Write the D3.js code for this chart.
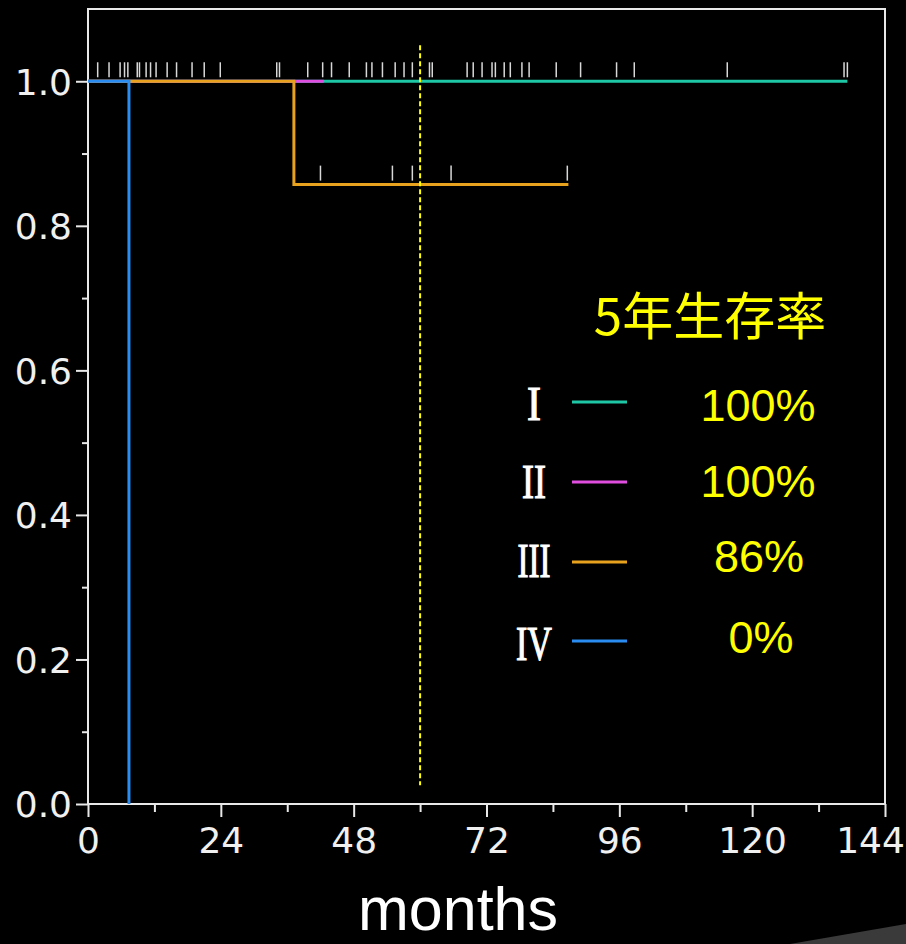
<!DOCTYPE html>
<html>
<head>
<meta charset="utf-8">
<script src="https://cdn.jsdelivr.net/npm/d3@7"></script>
<style>
  html, body { margin: 0; padding: 0; background: #000; }
  svg { display: block; }
</style>
</head>
<body>
<div id="container"></div>
<script>
/* CONSTANTS AND GLOBALS */
const width = 906,
  height = 944,
  margin = {top: 9, bottom: 140, left: 88, right: 21};

// data
const xTicks = [0, 24, 48, 72, 96, 120, 144];
const xMinor = [12, 36, 60, 84, 108, 132];
const yTicks = [0, 0.2, 0.4, 0.6, 0.8, 1.0];
const yMinor = [0.1, 0.3, 0.5, 0.7, 0.9];

const stageLabels = ["I", "II", "III", "IV"];
const stageColors = ["#1ec8a6", "#e04ee0", "#e8a21e", "#2a8cf0"];
const fiveYear = ["100%", "100%", "86%", "0%"];

// step curves: [months, survival]
const curveI = [[0, 1], [137.2, 1]];
const curveII = [[0, 1], [42.6, 1]];
const curveIII = [[0, 1], [37.2, 0.857], [86.8, 0.857]];
const curveIV = [[0, 1], [7.4, 0], [7.4, 0]];
const curves = [curveI, curveII, curveIII, curveIV];

// censor marks
const censorTop = [1.75, 3.8, 5.8, 6.6, 7.2, 8.9, 9.3, 10.5, 11.3, 12.3, 14.3, 16.0, 18.8, 21.0, 23.9,
  34.1, 34.6, 39.7, 42.4, 44.0, 47.2, 50.3, 51.3, 53.2, 55.5, 57.1, 58.6, 61.7, 62.2,
  68.5, 69.6, 71.2, 73.0, 73.6, 75.2, 76.3, 78.4, 79.7, 84.6, 89.0, 95.5, 98.7, 115.5, 136.6, 137.2];
const censorIII = [42.0, 55.0, 58.6, 65.6, 86.6];
const fiveYearMark = 60;

// Scales
const xScale = d3.scaleLinear()
  .domain([0, 144])
  .range([margin.left, width - margin.right]);

const yScale = d3.scaleLinear()
  .domain([0, 1.1])
  .range([height - margin.bottom, margin.top]);

// SVG
const svg = d3.select("#container")
  .append("svg")
  .attr("width", width)
  .attr("height", height)
  .style("background", "#000");

// slanted grey shape in the corner
svg.append("polygon")
  .attr("points", "790,944 906,924 906,944")
  .attr("fill", "#3a3a3a");

const x0 = xScale(0), x1 = xScale(144), y0 = yScale(0), y1 = yScale(1.1);

// Axes
const xAxis = d3.axisBottom(xScale).tickValues(xTicks).tickSize(13).tickPadding(10);
const gx = svg.append("g")
  .attr("transform", `translate(0, ${y0})`)
  .call(xAxis);
svg.append("g")
  .attr("transform", `translate(0, ${y0})`)
  .call(d3.axisBottom(xScale).tickValues(xMinor).tickSize(8).tickFormat(""));

gx.selectAll("text").filter(d => d === 144).attr("dx", -15);

const yAxis = d3.axisLeft(yScale).tickValues(yTicks).tickSize(12).tickPadding(4)
  .tickFormat(d3.format(".1f"));
const gy = svg.append("g")
  .attr("transform", `translate(${x0},0)`)
  .call(yAxis);
svg.append("g")
  .attr("transform", `translate(${x0},0)`)
  .call(d3.axisLeft(yScale).tickValues(yMinor).tickSize(6).tickFormat(""));

svg.selectAll(".domain").remove();
svg.selectAll(".tick line").attr("stroke", "#e8e8e8").attr("stroke-width", 2);
svg.selectAll(".tick text")
  .attr("fill", "#f0f0f0")
  .style("font-family", "'DejaVu Sans', Verdana, sans-serif")
  .style("font-size", "36px");
gy.selectAll("text").attr("dy", "0.36em");

// frame
svg.append("rect")
  .attr("x", x0)
  .attr("y", y1)
  .attr("width", x1 - x0)
  .attr("height", y0 - y1)
  .attr("fill", "none")
  .attr("stroke", "#e8e8e8")
  .attr("stroke-width", 2);

// censor marks
svg.append("g").selectAll("line")
  .data(censorTop)
  .join("line")
  .attr("x1", d => xScale(d))
  .attr("x2", d => xScale(d))
  .attr("y1", yScale(1) - 19)
  .attr("y2", yScale(1) - 4)
  .attr("stroke", "#d8d8d8")
  .attr("stroke-width", 1.5);

svg.append("g").selectAll("line")
  .data(censorIII)
  .join("line")
  .attr("x1", d => xScale(d))
  .attr("x2", d => xScale(d))
  .attr("y1", yScale(0.857) - 19)
  .attr("y2", yScale(0.857) - 4)
  .attr("stroke", "#d8d8d8")
  .attr("stroke-width", 1.5);

// curves
const lineGen = d3.line()
  .x(d => xScale(d[0]))
  .y(d => yScale(d[1]))
  .curve(d3.curveStepAfter);

svg.append("g").selectAll("path")
  .data(curves)
  .join("path")
  .attr("fill", "none")
  .attr("stroke", (d, i) => stageColors[i])
  .attr("stroke-width", 3)
  .attr("d", lineGen);

// 5-year dashed line
svg.append("line")
  .attr("x1", xScale(fiveYearMark))
  .attr("x2", xScale(fiveYearMark))
  .attr("y1", yScale(1.05))
  .attr("y2", yScale(0.026))
  .attr("stroke", "#ffff00")
  .attr("stroke-width", 2)
  .attr("stroke-dasharray", "5,3");

// legend
svg.append("text")
  .attr("x", 710)
  .attr("y", 335)
  .attr("text-anchor", "middle")
  .text("5年生存率")
  .style("font-family", "'Noto Sans CJK JP', 'Noto Sans CJK SC', sans-serif")
  .style("font-size", "51px")
  .style("fill", "#ffff00");

const rowY = [402, 482, 562, 641];
const numWidths = [14, 24, 33, 36];

const leg = svg.append("g").selectAll("g")
  .data(stageLabels)
  .join("g")
  .attr("transform", (d, i) => `translate(0, ${rowY[i]})`);

leg.append("text")
  .attr("x", 534)
  .attr("y", (d, i) => [18, 16, 15, 19][i])
  .attr("text-anchor", "middle")
  .attr("textLength", (d, i) => numWidths[i])
  .attr("lengthAdjust", "spacingAndGlyphs")
  .text(d => d)
  .style("font-family", "'Liberation Serif', 'DejaVu Serif', serif")
  .style("font-size", "48px")
  .style("fill", "#ffffff")
  .style("stroke", "#ffffff")
  .style("stroke-width", "1.2px");

leg.append("line")
  .attr("x1", 572)
  .attr("x2", 627)
  .attr("stroke", (d, i) => stageColors[i])
  .attr("stroke-width", 3);

leg.append("text")
  .attr("x", (d, i) => [758, 758, 759, 761][i])
  .attr("y", (d, i) => [19, 15, 10, 12][i])
  .attr("text-anchor", "middle")
  .text((d, i) => fiveYear[i])
  .style("font-family", "'Liberation Sans', Arial, sans-serif")
  .style("font-size", "45px")
  .style("fill", "#ffff00");

// X Label
svg.append("text")
  .attr("x", 458)
  .attr("y", 930)
  .attr("text-anchor", "middle")
  .text("months")
  .style("font-family", "'Liberation Sans', Arial, sans-serif")
  .style("font-size", "61px")
  .style("fill", "#ffffff");
</script>
</body>
</html>
